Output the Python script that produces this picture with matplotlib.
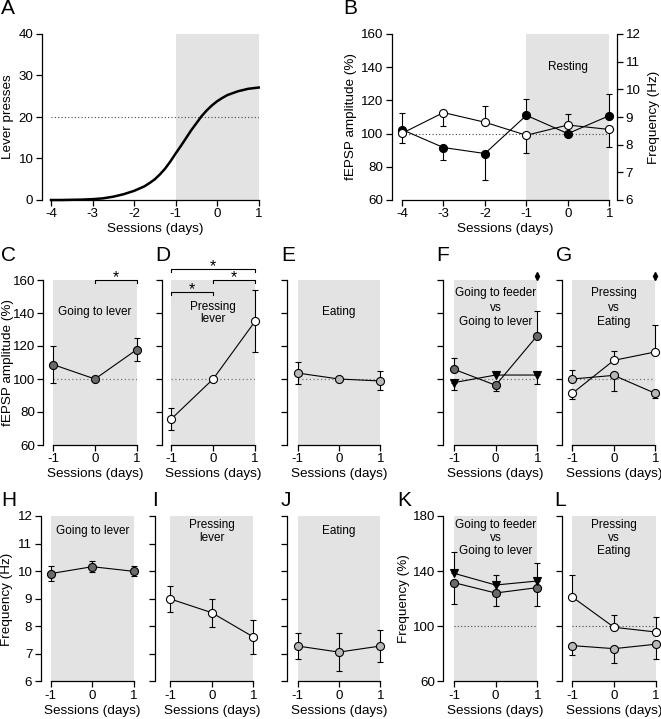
import matplotlib
matplotlib.use("Agg")
import matplotlib.pyplot as plt

plt.rcParams['font.family'] = ['Liberation Sans', 'DejaVu Sans']
plt.rcParams['axes.unicode_minus'] = False

# ---------------- data ----------------
A_x = [-4, -3.75, -3.5, -3.25, -3, -2.75, -2.5, -2.25, -2, -1.75, -1.625, -1.5,
       -1.375, -1.25, -1.125, -1, -0.875, -0.75, -0.625, -0.5, -0.375, -0.25,
       -0.125, 0, 0.125, 0.25, 0.5, 0.75, 1]
A_y = [0.0, 0.0, 0.05, 0.1, 0.2, 0.4, 0.8, 1.4, 2.2, 3.3, 4.1, 5.0,
       6.2, 7.6, 9.3, 11.2, 13.0, 14.9, 16.8, 18.5, 20.2, 21.6,
       22.8, 23.8, 24.6, 25.3, 26.2, 26.8, 27.1]

B_days = [-4, -3, -2, -1, 0, 1]
B_fepsp = [102.4, 91.6, 88.0, 111.0, 100.0, 110.8]
B_fepsp_lo = [0, 7.3, 16.1, 0, 0, 0]
B_fepsp_hi = [10.3, 0, 0, 10.1, 0, 12.9]
B_freq = [8.41, 9.16, 8.81, 8.34, 8.71, 8.55]
B_freq_lo = [0.36, 0.50, 0, 0.63, 0, 0.63]
B_freq_hi = [0, 0, 0.58, 0, 0.39, 0]

days = [-1, 0, 1]
C_amp = [108.7, 100.0, 117.8]; C_lo = [11.1, 0, 6.9]; C_hi = [11.1, 0, 7.1]
D_amp = [75.8, 100.0, 134.9]; D_lo = [6.7, 0, 18.6]; D_hi = [6.6, 0, 18.8]
E_amp = [103.6, 100.0, 98.8]; E_lo = [6.4, 0, 5.7]; E_hi = [6.7, 0, 5.8]
F_lever = [105.9, 96.2, 126.3]; F_lever_lo = [0, 3.7, 0]; F_lever_hi = [7.0, 0, 15.0]
F_feeder = [97.8, 102.4, 102.4]; F_feeder_lo = [4.7, 0, 5.6]; F_feeder_hi = [0, 1.5, 0]
G_press = [91.3, 111.3, 116.4]; G_press_lo = [3.6, 0, 0]; G_press_hi = [0, 5.7, 16.3]
G_eat = [100.0, 102.2, 91.3]; G_eat_lo = [0, 9.3, 2.8]; G_eat_hi = [5.7, 0, 0]
H_freq = [9.91, 10.16, 9.99]; H_lo = [0.28, 0.21, 0.18]; H_hi = [0.27, 0.19, 0.19]
I_freq = [8.99, 8.49, 7.61]; I_lo = [0.49, 0.51, 0.61]; I_hi = [0.48, 0.50, 0.60]
J_freq = [7.28, 7.06, 7.28]; J_lo = [0.48, 0.69, 0.59]; J_hi = [0.49, 0.68, 0.58]
K_feeder = [138.4, 129.9, 132.8]; K_feeder_lo = [0, 0, 0]; K_feeder_hi = [15.7, 7.3, 12.8]
K_lever = [131.6, 124.1, 128.0]; K_lever_lo = [15.7, 9.7, 13.6]; K_lever_hi = [0, 0, 0]
L_press = [121.2, 99.2, 95.8]; L_press_lo = [0, 0, 0]; L_press_hi = [15.7, 8.7, 11.2]
L_eat = [85.9, 83.7, 86.9]; L_eat_lo = [6.8, 10.4, 10.7]; L_eat_hi = [0, 0, 0]

# ---------------- style ----------------
W, H = 661, 719
SHADE = '#e3e3e3'
DARK = '#6a6a6a'
LIGHT = '#b8b8b8'
WHITE = 'white'
TICK_FS = 9.6
LAB_FS = 9.7
ANN_FS = 8.5
LET_FS = 15
SPW = 0.9
MS = 5.8

fig = plt.figure(figsize=(W / 100, H / 100), dpi=100)


def make_ax(left, right, top, bottom, xfirst, xlast, xfirst_px, xlast_px):
    ax = fig.add_axes([left / W, 1 - bottom / H, (right - left) / W, (bottom - top) / H])
    per = (xlast_px - xfirst_px) / (xlast - xfirst)
    x0 = xfirst - (xfirst_px - left) / per
    x1 = xlast + (right - xlast_px) / per
    ax.set_xlim(x0, x1)
    ax.set_facecolor('none')
    for s in ['top', 'right']:
        ax.spines[s].set_visible(False)
    for s in ['left', 'bottom']:
        ax.spines[s].set_linewidth(SPW)
    ax.spines['bottom'].set_bounds(xfirst, xlast)
    ax.tick_params(direction='out', length=4, width=SPW, labelsize=TICK_FS, pad=2)
    return ax


def series(ax, x, y, lo, hi, fc, marker='o', ms=MS, z=3):
    ax.errorbar(x, y, yerr=[lo, hi], fmt='none', ecolor='black', elinewidth=0.8,
                capsize=2, capthick=0.8, zorder=z, clip_on=False)
    ax.plot(x, y, '-', color='black', lw=0.8, zorder=z + 0.5, clip_on=False)
    ax.plot(x, y, linestyle='none', marker=marker, ms=ms, mfc=fc, mec='black',
            mew=0.8, zorder=z + 1, clip_on=False)


def letter(x, y, s):
    fig.text(x / W, 1 - y / H, s, fontsize=LET_FS, ha='left', va='center')


def xlab(xc, y):
    fig.text(xc / W, 1 - y / H, 'Sessions (days)', fontsize=LAB_FS, ha='center', va='center')


def ylab(x, yc, s):
    fig.text(x / W, 1 - yc / H, s, fontsize=LAB_FS, ha='center', va='center', rotation=90)


# ---------------- Panel A ----------------
axA = make_ax(41.7, 258.7, 34, 200, -4, 1, 51, 258.7)
axA.set_ylim(0, 40)
axA.set_yticks([0, 10, 20, 30, 40])
axA.set_xticks([-4, -3, -2, -1, 0, 1])
axA.axvspan(-1, 1, color=SHADE, lw=0, zorder=0)
axA.plot([-4, 1], [20, 20], ls=(0, (1, 2)), color='#444444', lw=0.8, zorder=1)
axA.plot(A_x, A_y, color='black', lw=1.8, zorder=3, clip_on=False,
         solid_joinstyle='round')
letter(1, 9, 'A')
ylab(8, 117, 'Lever presses')
xlab(154.8, 229)

# ---------------- Panel B ----------------
axB = make_ax(391.7, 617.3, 34, 200, -4, 1, 402, 609.3)
axB.set_ylim(60, 160)
axB.set_yticks([60, 80, 100, 120, 140, 160])
axB.set_xticks(B_days)
axB.axvspan(-1, 1, color=SHADE, lw=0, zorder=0)
axB.plot([-4, 1], [100, 100], ls=(0, (1, 2)), color='#444444', lw=0.8, zorder=1)
series(axB, B_days, B_fepsp, B_fepsp_lo, B_fepsp_hi, 'black')
axB.text(0, 140.3, 'Resting', fontsize=ANN_FS, ha='center', va='center')
axB2 = axB.twinx()
axB2.set_ylim(6, 12)
axB2.set_yticks([6, 7, 8, 9, 10, 11, 12])
for s in ['top', 'left', 'bottom']:
    axB2.spines[s].set_visible(False)
axB2.spines['right'].set_linewidth(SPW)
axB2.tick_params(direction='out', length=4, width=SPW, labelsize=TICK_FS, pad=2)
series(axB2, B_days, B_freq, B_freq_lo, B_freq_hi, WHITE, z=5)
letter(343, 9, 'B')
ylab(351, 117, 'fEPSP amplitude (%)')
ylab(654, 117, 'Frequency (Hz)')
xlab(505.7, 229)

# ---------------- Row 2 ----------------
r2t, r2b = 280, 445


def row2(left, xm1, x1, show_labels=False):
    ax = make_ax(left, x1, r2t, r2b, -1, 1, xm1, x1)
    ax.set_ylim(60, 160)
    ax.set_yticks([60, 80, 100, 120, 140, 160])
    ax.set_xticks(days)
    if not show_labels:
        ax.set_yticklabels([])
    ax.axvspan(-1, 1, color=SHADE, lw=0, zorder=0)
    ax.plot([-1, 1], [100, 100], ls=(0, (1, 2)), color='#777777', lw=0.9, zorder=1)
    return ax


def bracket(ax, xa, xb, y, ystar, drop=1.8):
    ax.plot([xa, xa, xb, xb], [y - drop, y, y, y - drop], color='black', lw=0.8,
            clip_on=False, zorder=6)
    ax.text((xa + xb) / 2, ystar, '*', fontsize=11.5, ha='center', va='center', zorder=6)


axC = row2(43.3, 53.3, 136.7, show_labels=True)
series(axC, days, C_amp, C_lo, C_hi, DARK)
axC.text(0, 140.6, 'Going to lever', fontsize=ANN_FS, ha='center', va='center')
bracket(axC, 0, 1, 160, 161.3)
letter(1, 256, 'C')
ylab(8, 362, 'fEPSP amplitude (%)')
xlab(95, 474)

axD = row2(162.3, 171.3, 255)
series(axD, days, D_amp, D_lo, D_hi, WHITE)
axD.text(0, 140, 'Pressing\nlever', fontsize=ANN_FS, ha='center', va='center', linespacing=1.1)
bracket(axD, -1, 0, 152.9, 154.2)
bracket(axD, 0, 1, 160, 161.3)
bracket(axD, -1, 1, 166.8, 168.1)
letter(155, 256, 'D')
xlab(213, 474)

axE = row2(286.7, 297.7, 380.3)
series(axE, days, E_amp, E_lo, E_hi, LIGHT)
axE.text(0, 140.6, 'Eating', fontsize=ANN_FS, ha='center', va='center')
letter(281, 256, 'E')
xlab(339, 474)

axF = row2(443.3, 454, 537.3)
series(axF, days, F_feeder, F_feeder_lo, F_feeder_hi, 'black', marker='v', ms=6.2)
series(axF, days, F_lever, F_lever_lo, F_lever_hi, DARK, z=6)
axF.text(0, 143.3, 'Going to feeder\nvs\nGoing to lever', fontsize=ANN_FS,
         ha='center', va='center', linespacing=1.25)
axF.plot([1], [162.6], marker='d', color='black', ms=4, clip_on=False)
letter(436, 256, 'F')
xlab(495.7, 474)

axG = row2(562.3, 572.3, 655.3)
series(axG, days, G_eat, G_eat_lo, G_eat_hi, LIGHT)
series(axG, days, G_press, G_press_lo, G_press_hi, WHITE, z=6)
axG.text(0, 143.3, 'Pressing\nvs\nEating', fontsize=ANN_FS,
         ha='center', va='center', linespacing=1.25)
axG.plot([1], [162.6], marker='d', color='black', ms=4, clip_on=False)
letter(556, 256, 'G')
xlab(614, 474)

# ---------------- Row 3 ----------------
r3t, r3b = 516, 681.3


def row3(left, xm1, x1, ylim, yticks, show_labels=False, dotted=False):
    ax = make_ax(left, x1, r3t, r3b, -1, 1, xm1, x1)
    ax.set_ylim(*ylim)
    ax.set_yticks(yticks)
    ax.set_xticks(days)
    if not show_labels:
        ax.set_yticklabels([])
    ax.axvspan(-1, 1, color=SHADE, lw=0, zorder=0)
    if dotted:
        ax.plot([-1, 1], [100, 100], ls=(0, (1, 2)), color='#444444', lw=0.8, zorder=1)
    return ax


hz = (6, 12)
hz_t = [6, 7, 8, 9, 10, 11, 12]
axH = row3(40.7, 50.7, 134, hz, hz_t, show_labels=True)
series(axH, days, H_freq, H_lo, H_hi, DARK)
axH.text(0, 11.47, 'Going to lever', fontsize=ANN_FS, ha='center', va='center')
letter(1, 500, 'H')
ylab(7, 599, 'Frequency (Hz)')
xlab(92.3, 711)

axI = row3(155, 170.3, 253.3, hz, hz_t)
series(axI, days, I_freq, I_lo, I_hi, WHITE)
axI.text(0, 11.43, 'Pressing\nlever', fontsize=ANN_FS, ha='center', va='center', linespacing=1.1)
letter(152, 500, 'I')
xlab(211.8, 711)

axJ = row3(287.3, 297.7, 380.3, hz, hz_t)
series(axJ, days, J_freq, J_lo, J_hi, LIGHT)
axJ.text(0, 11.47, 'Eating', fontsize=ANN_FS, ha='center', va='center')
letter(281, 500, 'J')
xlab(339, 711)

pct = (60, 180)
pct_t = [60, 100, 140, 180]
axK = row3(443.3, 454, 537.3, pct, pct_t, show_labels=True, dotted=True)
series(axK, days, K_lever, K_lever_lo, K_lever_hi, DARK)
series(axK, days, K_feeder, K_feeder_lo, K_feeder_hi, 'black', marker='v', ms=6.2, z=6)
axK.text(0, 163.8, 'Going to feeder\nvs\nGoing to lever', fontsize=ANN_FS,
         ha='center', va='center', linespacing=1.1)
letter(397, 500, 'K')
ylab(404, 599, 'Frequency (%)')
xlab(495.7, 711)

axL = row3(561.7, 572.3, 655.7, pct, pct_t, dotted=True)
series(axL, days, L_eat, L_eat_lo, L_eat_hi, LIGHT)
series(axL, days, L_press, L_press_lo, L_press_hi, WHITE, z=6)
axL.text(0, 163.8, 'Pressing\nvs\nEating', fontsize=ANN_FS,
         ha='center', va='center', linespacing=1.1)
letter(554, 500, 'L')
xlab(614, 711)

fig.savefig('out.png', dpi=100)
